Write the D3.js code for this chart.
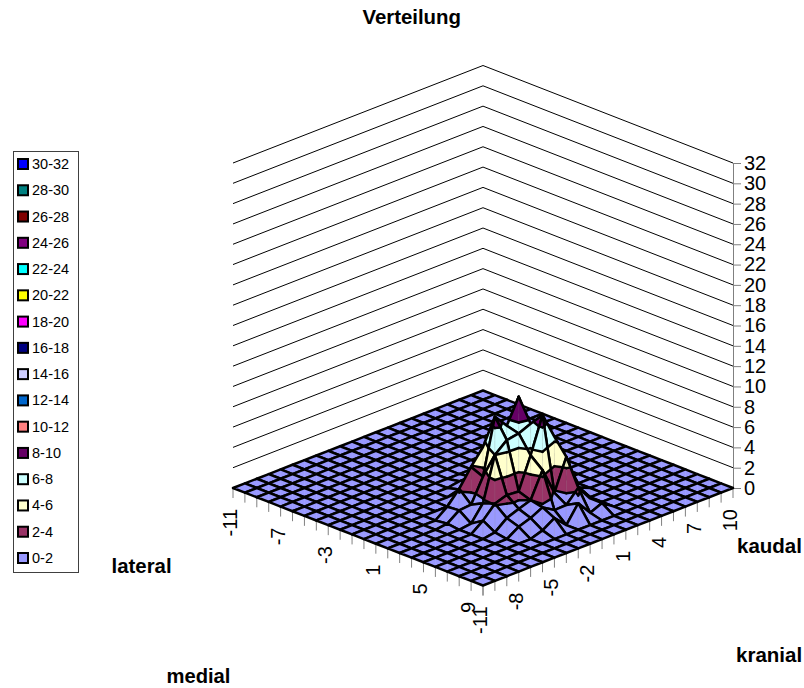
<!DOCTYPE html>
<html>
<head>
<meta charset="utf-8">
<script src="https://cdn.jsdelivr.net/npm/d3@7"></script>
<style>
html,body{margin:0;padding:0;background:#fff}
svg{display:block}
text{font-family:"Liberation Sans",Arial,sans-serif;fill:#000}
</style>
</head>
<body>
<svg id="chart" width="804" height="688"></svg>
<script>
// Grid categories along the two floor axes
const lateralValues = d3.range(-11, 11);
const kaudalValues = d3.range(-11, 11);
const lateralTicks = [-11, -7, -3, 1, 5, 9];
const kaudalTicks = [-11, -8, -5, -2, 1, 4, 7, 10];
const heightTicks = d3.range(0, 33, 2);

// Band limits and fills, lowest band first
const bandLabels = ["0-2","2-4","4-6","6-8","8-10","10-12","12-14","14-16","16-18","18-20","20-22","22-24","24-26","26-28","28-30","30-32"];
const bandColors = ["#9999FF","#993366","#FFFFCC","#CCFFFF","#660066","#FF8080","#0066CC","#CCCCFF","#000080","#FF00FF","#FFFF00","#00FFFF","#800080","#800000","#008080","#0000FF"];

// Measured distribution, one row per lateral position, one column per kaudal position
const distribution = [
 [0,0,0,0,0,0,0,0,0,0,0,0,0,0,0,0,0,0,0,0,0,0],
 [0,0,0,0,0,0,0,0,0,0,0,0,0,0,0,0,0,0,0,0,0,0],
 [0,0,0,0,0,0,0,0,0,0,0,0,0,0,0,0,0,0,0,0,0,0],
 [0,0,0,0,0,0,0,0,0,0,0,0,0,0,0,0,0,0,0,0,0,0],
 [0,0,0,0,0,0,0,0,0,0,0,0,0,0,0,0,0,0,0,0,0,0],
 [0,0,0,0,0,0,0,0,0,0,0,0,0,0,0,0,0,0,0,0,0,0],
 [0,0,0,0,0,0,0,0,0,0,0,0,0,0,0,0,0,0,0,0,0,0],
 [0,0,0,0,0,0,0,0,0,0,0,0,0,0,0,0,0,0,0,0,0,0],
 [0,0,0,0,0,0,0,0,0,0,0,0,0,0,0,0,0,0,0,0,0,0],
 [0,0,0,0,0,0,0,0,0,0,0.2,0.2,0,0,0,0,0,0,0,0,0,0],
 [0,0,0,0,0,0,0,0,0,0.3,1,1,0.5,0,0,0,0,0,0,0,0,0],
 [0,0,0,0,0,0,0,0,1,2.5,4,4.5,4,3,1,0,0,0,0,0,0,0],
 [0,0,0,0,0,0,0.9,2.2,3.9,5.4,6,6,5.5,4,2,0,0,0,0,0,0,0],
 [0,0,0,0,0,0.15,1,1.1,3.4,8.85,7.5,9.9,6,5,4,0,0,0,0,0,0,0],
 [0,0,0,0,0,0,0.15,1.7,6,7,7.2,7.7,6,3,2.5,0,0,0,0,0,0,0],
 [0,0,0,0,0,0,0.9,2.1,2.5,2.4,5.5,9,6.4,3.5,0.5,0,0,0,0,0,0,0],
 [0,0,0,0,0,0,0.2,1.15,1.6,2,4.5,1.8,4.9,1.5,0,0,0,0,0,0,0,0],
 [0,0,0,0,0,0,0,0.75,1.15,1.75,1.03,1.07,2.3,0.8,0,0,0,0,0,0,0,0],
 [0,0,0,0,0,0,0,0,0.4,1.15,0,1.7,0.3,0.8,0,0,0,0,0,0,0,0],
 [0,0,0,0,0,0,0,0,0,0,0,0,0,0,0,0,0,0,0,0,0,0],
 [0,0,0,0,0,0,0,0,0,0,0,0,0,0,0,0,0,0,0,0,0,0],
 [0,0,0,0,0,0,0,0,0,0,0,0,0,0,0,0,0,0,0,0,0,0]
];

const svg = d3.select("#chart");

// Oblique projection: each floor axis contributes a horizontal and a vertical shift
const leftCorner = {x: 233, y: 488};
const latX = d3.scaleLinear().domain([-11, 10]).range([0, 250]);
const latY = d3.scaleLinear().domain([-11, 10]).range([0, 97.5]);
const kauX = d3.scaleLinear().domain([-11, 10]).range([0, 250]);
const kauY = d3.scaleLinear().domain([-11, 10]).range([0, -97.5]);
const zScale = d3.scaleLinear().domain([0, 32]).range([488, 163]);
const project = (lat, kau, z) => [
  leftCorner.x + latX(lat) + kauX(kau),
  leftCorner.y + latY(lat) + kauY(kau) + zScale(z) - zScale(0)
];
const poly = pts => "M" + pts.map(p => project(p.lat, p.kau, p.z).join(",")).join("L") + "Z";
const line = pts => "M" + pts.map(p => project(p.lat, p.kau, p.z).join(",")).join("L");

// Back walls with one line per height tick
const walls = svg.append("g").attr("fill", "none").attr("stroke", "#000").attr("stroke-width", 1);
heightTicks.slice(1).forEach(h => {
  walls.append("path").attr("d", line([
    {lat: -11, kau: -11, z: h}, {lat: -11, kau: 10, z: h}, {lat: 10, kau: 10, z: h}
  ]));
});

// Height axis on the right corner
const zAxis = d3.axisRight(zScale).tickValues(heightTicks).tickSize(8).tickPadding(3).tickSizeOuter(0);
const zAxisG = svg.append("g").attr("transform", "translate(733,0)").call(zAxis);
zAxisG.select(".domain").attr("stroke", "#808080").attr("stroke-width", 1);
zAxisG.selectAll(".tick line").attr("stroke", "#808080");
zAxisG.selectAll("text").attr("font-family", "Liberation Sans").attr("font-size", 20).attr("fill", "#000");

// Floor axes: tick marks hang straight down from the front edges
const tickLen = 10;
const ticks = svg.append("g").attr("stroke", "#808080").attr("stroke-width", 1);
lateralValues.forEach(v => {
  const [x, y] = project(v, -11, 0);
  ticks.append("line").attr("x1", x).attr("x2", x).attr("y1", y).attr("y2", y + tickLen);
});
kaudalValues.forEach(v => {
  const [x, y] = project(10, v, 0);
  ticks.append("line").attr("x1", x).attr("x2", x).attr("y1", y).attr("y2", y + tickLen);
});
const tickLabel = (x, y, t) => svg.append("text")
  .attr("transform", `translate(${x + 4},${y + 21}) rotate(-90)`)
  .attr("text-anchor", "end").attr("font-size", 20).text(t);
lateralTicks.forEach(v => { const [x, y] = project(v, -11, 0); tickLabel(x, y, v); });
kaudalTicks.forEach(v => { const [x, y] = project(10, v, 0); tickLabel(x, y, v); });

// Cut a convex polygon to the part lying between two heights
function clipAt(pts, level, keepAbove) {
  const out = [];
  pts.forEach((a, i) => {
    const b = pts[(i + 1) % pts.length];
    const aIn = keepAbove ? a.z >= level : a.z <= level;
    const bIn = keepAbove ? b.z >= level : b.z <= level;
    if (aIn) out.push(a);
    if (aIn !== bIn) {
      const t = (level - a.z) / (b.z - a.z);
      out.push({lat: a.lat + t * (b.lat - a.lat), kau: a.kau + t * (b.kau - a.kau), z: level});
    }
  });
  return out;
}

// Where a triangle crosses a height, as a single segment
function crossing(tri, level) {
  const pts = [];
  tri.forEach((a, i) => {
    const b = tri[(i + 1) % 3];
    if ((a.z < level) !== (b.z < level)) {
      const t = (level - a.z) / (b.z - a.z);
      pts.push({lat: a.lat + t * (b.lat - a.lat), kau: a.kau + t * (b.kau - a.kau), z: level});
    }
  });
  return pts.length === 2 ? pts : null;
}

// Surface cells painted from the back corner to the front corner
const cells = [];
d3.range(21).forEach(i => d3.range(21).forEach(j => cells.push({i, j})));
cells.sort((a, b) => (a.i - a.j) - (b.i - b.j));

const surface = svg.append("g").attr("stroke-linejoin", "round").attr("stroke-linecap", "round");
const node = (i, j) => ({lat: lateralValues[i], kau: kaudalValues[j], z: distribution[i][j]});

cells.forEach(({i, j}) => {
  const a = node(i, j), b = node(i + 1, j), c = node(i + 1, j + 1), d = node(i, j + 1);
  // the upright diagonal of the diamond splits the cell in two facets
  const facets = [[a, b, d], [b, c, d]];
  const g = surface.append("g");
  facets.forEach(tri => {
    bandColors.forEach((color, k) => {
      const low = k * 2, high = low + 2;
      let part = clipAt(tri, low, true);
      if (part.length) part = clipAt(part, high, false);
      if (part.length >= 3) {
        g.append("path").attr("d", poly(part)).attr("fill", color).attr("stroke", color).attr("stroke-width", 0.6);
      }
    });
  });
  // a faint seam shows where the two facets fold
  if (a.z + b.z + c.z + d.z > 0) {
    g.append("path").attr("d", line([b, d])).attr("fill", "none").attr("stroke", "#808080")
      .attr("stroke-opacity", 0.3).attr("stroke-width", 0.6);
  }
  // contour lines between the bands
  facets.forEach(tri => {
    heightTicks.slice(1).forEach(level => {
      const seg = crossing(tri, level);
      if (seg) g.append("path").attr("d", line(seg)).attr("fill", "none").attr("stroke", "#000").attr("stroke-width", 2.5);
    });
  });
  g.append("path").attr("d", poly([a, b, c, d])).attr("fill", "none").attr("stroke", "#000").attr("stroke-width", 2.5);
});

// Legend box, highest band on top
const legend = svg.append("g");
legend.append("rect").attr("x", 13.5).attr("y", 151.5).attr("width", 65).attr("height", 421)
  .attr("fill", "#fff").attr("stroke", "#404040").attr("stroke-width", 1);
const legendY = d3.scalePoint().domain(d3.range(15, -1, -1)).range([164, 558]);
d3.range(16).forEach(k => {
  const y = legendY(k);
  legend.append("rect").attr("x", 18).attr("y", y - 5).attr("width", 10).attr("height", 10)
    .attr("fill", bandColors[k]).attr("stroke", "#000").attr("stroke-width", 2);
  legend.append("text").attr("x", 32).attr("y", y + 5).attr("font-size", 14.5).text(bandLabels[k]);
});

// Title and direction captions
const caption = (x, y, size, t, anchor) => svg.append("text").attr("x", x).attr("y", y)
  .attr("font-size", size).attr("font-weight", "bold").attr("text-anchor", anchor || "start").text(t);
caption(411.7, 24, 20.4, "Verteilung", "middle");
caption(111.5, 573, 20.4, "lateral");
caption(737, 553, 20.5, "kaudal");
caption(736, 662, 20.5, "kranial");
caption(166.5, 683, 20.2, "medial");
</script>
</body>
</html>
